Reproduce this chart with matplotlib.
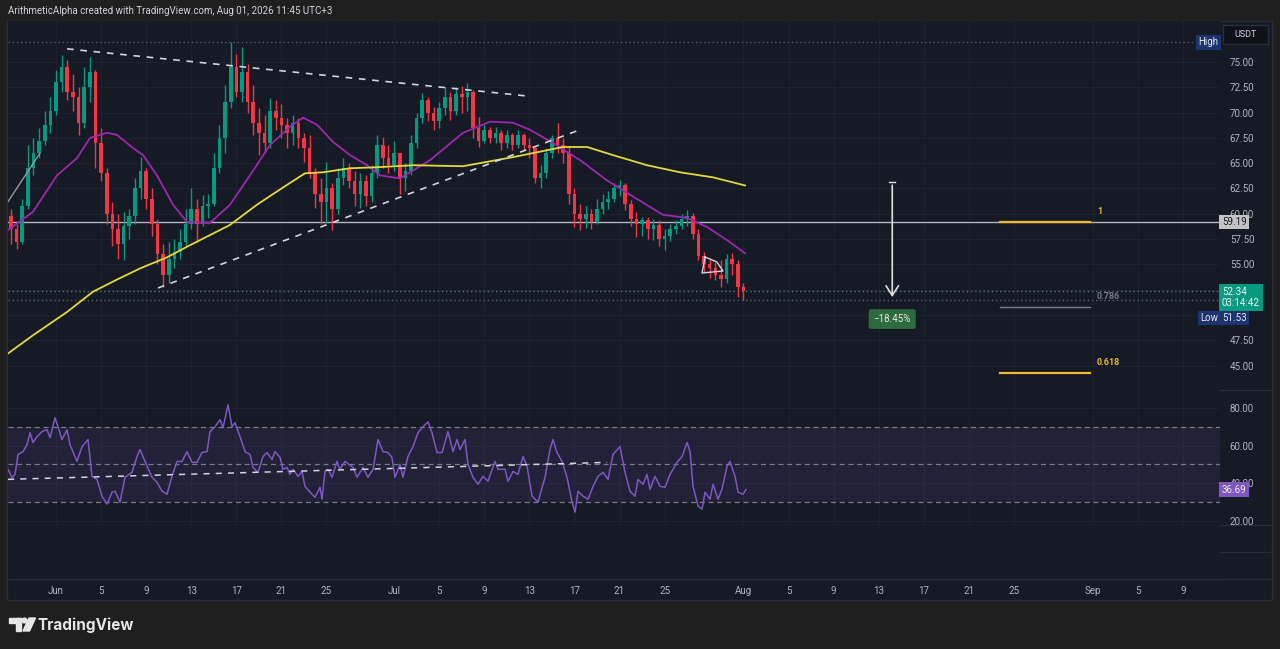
import numpy as np
import matplotlib
matplotlib.use("Agg")
import matplotlib.pyplot as plt
from matplotlib.patches import Rectangle, Polygon, Circle
from matplotlib.transforms import blended_transform_factory

plt.rcParams['font.family'] = ['Roboto', 'DejaVu Sans']

# ---- data (x in days from Jun 1, 12h candles) ----
candle_start = -4.0
candle_step = 0.5
first_open = 59.8
closes = [58.5, 57.2, 60.8, 64.5, 66.0, 67.2, 68.8, 70.2, 73.0, 74.5,
          72.0, 71.5, 69.0, 72.5, 74.0, 67.0, 64.0, 60.0, 58.5, 57.0,
          58.8, 59.8, 62.5, 64.2, 61.5, 59.0, 56.0, 54.0, 55.5, 56.2,
          57.2, 59.0, 60.5, 59.0, 60.8, 61.0, 64.5, 67.5, 71.0, 74.5,
          72.0, 74.0, 71.0, 69.0, 68.0, 67.0, 70.2, 69.5, 68.8, 68.0,
          69.0, 67.5, 66.5, 64.0, 62.0, 61.2, 62.5, 60.5, 63.5, 64.5,
          63.2, 62.0, 63.2, 61.8, 64.0, 66.8, 65.5, 64.8, 66.0, 63.5,
          64.2, 67.0, 69.5, 71.2, 70.0, 69.2, 70.5, 71.5, 70.2, 71.8,
          71.5, 72.0, 68.5, 67.2, 68.3, 67.5, 68.0, 67.0, 67.8, 66.8,
          67.8, 66.8, 66.5, 63.5, 64.0, 66.0, 67.5, 66.8, 66.0, 62.0,
          60.0, 59.5, 60.0, 59.2, 60.5, 61.2, 61.5, 62.5, 62.8, 61.0,
          59.5, 59.0, 59.4, 58.5, 58.9, 57.5, 57.8, 58.5, 58.8, 59.5,
          59.8, 58.0, 55.8, 55.0, 54.6, 54.0, 53.6, 55.5, 55.0, 52.8,
          52.34]
highs = [60.5, 59.0, 61.5, 66.8, 67.5, 68.5, 70.2, 71.5, 74.2, 75.7,
         75.2, 73.8, 72.5, 74.5, 75.5, 74.2, 68.5, 64.5, 61.2, 60.0,
         60.2, 60.5, 63.5, 65.6, 64.5, 62.5, 59.5, 57.0, 57.2, 57.5,
         58.5, 60.5, 62.5, 61.5, 61.9, 62.0, 66.0, 68.8, 72.7, 77.0,
         75.8, 76.5, 74.8, 72.7, 70.5, 69.8, 71.4, 71.2, 70.8, 69.5,
         69.8, 69.5, 68.0, 67.8, 64.5, 63.5, 65.1, 63.0, 64.5, 65.5,
         65.0, 64.2, 64.0, 63.8, 64.8, 67.8, 67.6, 66.8, 67.2, 66.0,
         65.0, 67.8, 70.0, 71.9, 71.5, 70.6, 71.0, 72.5, 72.0, 72.5,
         72.6, 72.9, 72.2, 69.6, 68.8, 68.6, 68.6, 68.3, 68.3, 68.0,
         68.3, 68.0, 67.5, 66.6, 64.8, 66.5, 67.8, 69.0, 67.5, 66.6,
         62.5, 61.0, 60.8, 60.5, 61.5, 62.0, 62.3, 63.0, 63.3, 63.0,
         61.4, 60.2, 59.7, 59.7, 59.5, 59.4, 58.5, 59.0, 59.4, 60.0,
         60.4, 60.1, 58.5, 56.2, 55.6, 55.2, 55.4, 56.0, 56.1, 55.4,
         53.2]
lows = [57.0, 56.5, 57.0, 60.5, 63.8, 65.5, 66.8, 68.0, 69.8, 72.0,
        71.2, 70.2, 67.8, 68.5, 71.0, 64.5, 63.2, 59.0, 56.8, 55.5,
        55.4, 57.5, 59.0, 61.5, 60.5, 57.8, 55.0, 52.8, 53.2, 54.6,
        55.5, 56.8, 58.5, 57.2, 58.8, 59.6, 60.8, 64.0, 66.0, 70.5,
        71.5, 71.0, 70.0, 67.8, 65.8, 66.1, 66.5, 68.3, 67.5, 66.5,
        66.8, 66.5, 65.1, 63.5, 60.6, 59.0, 59.1, 58.4, 60.0, 62.8,
        62.5, 60.8, 60.6, 60.8, 61.2, 63.5, 64.5, 64.0, 64.2, 62.0,
        62.3, 63.8, 66.5, 69.0, 69.2, 68.3, 68.5, 69.8, 69.3, 69.8,
        70.0, 70.2, 67.5, 66.6, 67.0, 67.0, 67.0, 66.3, 66.5, 66.3,
        66.5, 66.3, 65.5, 63.0, 62.5, 63.5, 65.5, 66.0, 65.0, 61.0,
        58.7, 58.4, 58.6, 58.5, 59.0, 60.0, 60.5, 61.2, 61.8, 60.4,
        58.8, 57.7, 57.8, 57.5, 57.4, 56.8, 56.4, 57.3, 58.0, 58.5,
        58.8, 57.5, 55.4, 54.2, 53.7, 53.5, 52.8, 53.2, 54.0, 51.8,
        51.53]

ma_fast_days = [-4.26, -2.04, 0.09, 1.86, 3.02, 4.53, 5.41, 6.83, 7.72, 8.96,
                10.38, 11.62, 13.66, 15.44, 17.21, 18.99, 20.76, 21.92, 23.16, 24.58,
                26.09, 27.6, 28.75, 30.52, 33.19, 36.11, 38.51, 40.55, 42.06, 44.1,
                46.5, 48.89, 51.2, 53.86, 55.99, 57.76, 59.54, 61.14]
ma_fast = [58.4, 60.2, 63.8, 65.5, 67.5, 68.0, 67.8, 66.5, 65.8, 63.8,
           60.9, 59.2, 59.1, 60.9, 63.8, 66.8, 68.6, 69.5, 68.8, 67.1,
           65.8, 64.8, 63.8, 63.5, 65.3, 68.0, 69.1, 69.0, 68.3, 67.0,
           65.3, 63.3, 61.7, 59.9, 59.6, 58.7, 57.4, 56.1]
ma_slow_days = [-4.26, -2.04, 0.98, 3.28, 5.41, 7.45, 9.85, 11.89, 15.44, 17.83,
                20.14, 22.09, 23.69, 26.09, 28.48, 31.68, 36.11, 40.55, 44.99, 47.12,
                49.42, 52.44, 55.37, 58.3, 61.14]
ma_slow = [46.2, 48.0, 50.3, 52.3, 53.5, 54.6, 55.7, 56.9, 58.9, 60.9,
           62.6, 64.0, 64.1, 64.5, 64.6, 64.8, 64.7, 65.6, 66.6, 66.6,
           65.8, 64.8, 64.1, 63.6, 62.8]

rsi_days = [-4.26, -3.90, -3.64, -3.37, -2.93, -2.57, -2.31, -2.04, -1.69, -1.24,
            -0.80, -0.53, -0.09, 0.18, 0.53, 0.98, 1.24, 1.86, 2.31, 2.84,
            3.19, 3.64, 4.08, 4.53, 4.97, 5.24, 5.68, 6.12, 6.74, 7.19,
            7.45, 7.90, 8.52, 8.96, 9.41, 9.85, 10.29, 10.74, 11.18, 11.62,
            12.07, 12.51, 12.95, 13.40, 13.66, 14.11, 14.55, 14.82, 15.26, 15.62,
            15.88, 16.33, 16.77, 17.21, 17.48, 17.92, 18.37, 18.72, 19.17, 19.43,
            19.88, 20.14, 20.50, 20.76, 21.03, 21.47, 21.83, 22.09, 22.54, 22.98,
            23.43, 23.60, 23.87, 24.13, 24.49, 24.93, 25.20, 25.64, 26.35, 26.71,
            27.24, 27.68, 28.13, 28.57, 29.01, 29.46, 29.81, 30.08, 30.52, 30.79,
            31.23, 31.68, 32.12, 32.56, 33.01, 33.36, 33.81, 34.25, 34.78, 35.23,
            35.58, 35.85, 36.29, 36.56, 37.00, 37.44, 37.89, 38.33, 38.95, 39.22,
            39.84, 40.11, 40.55, 40.99, 41.44, 41.79, 42.24, 42.77, 43.39, 43.83,
            44.10, 44.45, 44.90, 45.34, 45.79, 46.05, 46.32, 46.76, 47.21, 47.65,
            48.09, 48.54, 48.98, 49.42, 50.04, 50.49, 50.93, 51.38, 51.64, 52.09,
            52.44, 52.71, 53.15, 53.59, 54.04, 54.48, 55.10, 55.55, 55.99, 56.26,
            56.52, 56.97, 57.32, 57.59, 58.03, 58.30, 58.74, 59.09, 59.54, 59.80,
            60.25, 60.52, 60.96, 61.22]
rsi_vals = [47.4, 43.0, 44.7, 55.3, 56.8, 60.5, 66.8, 61.6, 64.7, 67.4,
            68.4, 64.2, 74.7, 70.0, 63.2, 68.4, 60.5, 51.6, 59.5, 63.2,
            43.7, 42.1, 33.2, 29.0, 35.3, 35.8, 30.0, 43.2, 45.8, 54.2,
            57.9, 51.6, 43.2, 40.5, 35.8, 34.2, 43.7, 51.6, 51.6, 56.8,
            51.1, 51.1, 56.3, 56.8, 67.4, 70.0, 73.7, 69.5, 81.6, 70.0,
            72.1, 64.7, 56.8, 55.3, 48.4, 45.8, 54.2, 56.3, 52.6, 56.8,
            53.7, 47.4, 48.4, 44.7, 47.4, 43.7, 46.3, 38.4, 35.3, 32.6,
            37.9, 31.6, 46.3, 47.4, 43.2, 51.6, 47.4, 51.6, 48.4, 43.2,
            48.4, 43.2, 47.4, 63.2, 56.8, 56.3, 53.7, 43.2, 50.0, 43.2,
            54.2, 59.5, 66.8, 70.0, 72.6, 66.8, 56.3, 56.3, 67.4, 56.8,
            63.2, 57.9, 63.2, 50.0, 43.2, 39.5, 43.7, 41.1, 51.6, 47.4,
            47.4, 41.1, 46.3, 44.7, 54.2, 49.0, 33.2, 30.0, 43.2, 57.9,
            63.2, 56.3, 51.6, 43.2, 30.0, 24.7, 35.8, 33.2, 31.6, 38.4,
            43.7, 45.8, 42.1, 55.3, 59.5, 45.8, 35.8, 33.2, 42.1, 39.5,
            44.7, 36.8, 43.7, 38.4, 37.9, 44.7, 51.1, 54.2, 61.6, 56.8,
            38.4, 27.9, 26.3, 35.3, 31.6, 39.5, 31.6, 36.8, 49.0, 51.6,
            43.7, 35.3, 34.2, 36.69]

# drawings
upper_tl_days, upper_tl_px = [0.98, 41.8], [76.3, 71.64]
lower_tl_days, lower_tl_px = [9.05, 46.67], [52.67, 68.38]
early_tl_days, early_tl_px = [-4.26, -1.42], [61.2, 66.0]
wedge_days = [57.59, 58.64, 59.18, 57.32, 57.59]
wedge_px = [55.73, 55.24, 54.35, 54.15, 55.73]
rsi_tl_days, rsi_tl_vals = [-4.26, 48.9], [42.1, 51.1]
hline_price = 59.19
last_price = 52.34
high_price = 77.0
low_price = 51.53
last_rsi = 36.69
arrow_day, arrow_from, arrow_to = 74.2, 63.1, 51.5
move_label = "\u221218.45%"
move_label_price = 49.6
fib_span = [83.8, 91.75]
fib_names = ["1", "0.786", "0.618"]
fib_prices = [59.19, 50.79, 44.27]

tick_days = [0, 4, 8, 12, 16, 20, 24, 30, 34, 38, 42, 46, 50, 54,
             61, 65, 69, 73, 77, 81, 85, 92, 96, 100]
tick_labels = ["Jun", "5", "9", "13", "17", "21", "25", "Jul", "5", "9", "13", "17", "21", "25",
               "Aug", "5", "9", "13", "17", "21", "25", "Sep", "5", "9"]
price_ticks = [45.0, 47.5, 50.0, 52.5, 55.0, 57.5, 60.0, 62.5, 65.0, 67.5, 70.0, 72.5, 75.0]
hidden_price_ticks = [50.0, 52.5]   # covered by the last-price / low tags
rsi_ticks = [20, 40, 60, 80]

# ---- style ----
BG = '#161a25'
OUTER = '#1f1f1f'
GRID = '#1e2230'
SEP = '#2a2e39'
TXT = '#b2b5be'
UP = '#089981'
DN = '#f23645'
W, H = 1280, 649

fig = plt.figure(figsize=(W / 100, H / 100), dpi=100, facecolor=OUTER)


def fr(x0, y0, x1, y1):
    return [x0 / W, 1 - y1 / H, (x1 - x0) / W, (y1 - y0) / H]


ui = fig.add_axes([0, 0, 1, 1], zorder=0)
ui.set_xlim(0, W)
ui.set_ylim(H, 0)
ui.axis('off')
ui.add_patch(Rectangle((7, 21), 1265, 579, facecolor=BG, edgecolor=SEP, lw=1))
for yy in [390, 525, 552, 579]:
    ui.plot([7, 1272], [yy, yy], color=SEP, lw=1)

ax = fig.add_axes(fr(8, 21, 1220, 390), zorder=1)
rx = fig.add_axes(fr(8, 390, 1220, 525), zorder=1)
p3 = fig.add_axes(fr(8, 525, 1220, 552), zorder=1)
p4 = fig.add_axes(fr(8, 552, 1220, 579), zorder=1)

xlim = (-4.26, 103.28)
for a in (ax, rx, p3, p4):
    a.set_facecolor(BG)
    a.set_xlim(*xlim)
    for s in a.spines.values():
        s.set_visible(False)
    a.tick_params(length=0)
    a.set_xticks(tick_days)
    a.set_xticklabels([])

ax.set_ylim(42.59, 79.05)
rx.set_ylim(17.9, 89.47)
p3.set_yticks([])
p4.set_yticks([])
p4.set_xticklabels(tick_labels, color=TXT, fontsize=7)
p4.tick_params(axis='x', pad=5)

for a, ticks in ((ax, price_ticks), (rx, rsi_ticks)):
    a.yaxis.tick_right()
    a.set_yticks(ticks)
    a.set_yticklabels(["" if t in hidden_price_ticks else "%.2f" % t for t in ticks],
                      color=TXT, fontsize=7)
    a.tick_params(axis='y', pad=7)
    a.grid(True, color=GRID, lw=0.8)
    a.set_axisbelow(True)

# ---- candles ----
c = np.array(closes)
hi = np.array(highs)
lo = np.array(lows)
o = np.r_[first_open, c[:-1]]
t = candle_start + candle_step * np.arange(len(c))
col = np.where(c >= o, UP, DN)
ax.vlines(t, lo, hi, colors=col, lw=1, zorder=3)
body = np.maximum(np.abs(c - o), 0.06)
ax.bar(t, body, bottom=np.minimum(o, c), width=0.32, color=col, lw=0, zorder=3)

ax.plot(ma_fast_days, ma_fast, color='#9c27b0', lw=1.3, zorder=4)
ax.plot(ma_slow_days, ma_slow, color='#e6d83c', lw=1.3, zorder=4)

# lines and drawings
ax.axhline(hline_price, color='#b2b5be', lw=1, zorder=2)
ax.axhline(high_price, color='#5d606b', lw=1, ls=(0, (1, 2)), zorder=2)
ax.axhline(last_price, color='#3f7f75', lw=1, ls=(0, (1, 2)), zorder=2)
ax.axhline(low_price, color='#5d606b', lw=1, ls=(0, (1, 2)), zorder=2)
dash = (0, (4, 4))
ax.plot(upper_tl_days, upper_tl_px, color='#d1d4dc', lw=1.2, ls=dash, zorder=5)
ax.plot(lower_tl_days, lower_tl_px, color='#d1d4dc', lw=1.2, ls=dash, zorder=5)
ax.plot(early_tl_days, early_tl_px, color='#9598a1', lw=1, zorder=5)
ax.plot(wedge_days, wedge_px, color='#d1d4dc', lw=1, zorder=5)

ax.plot([arrow_day - 0.25, arrow_day + 0.25], [arrow_from, arrow_from], color='#e0e0e0', lw=1, zorder=5)
ax.annotate("", xy=(arrow_day, arrow_to), xytext=(arrow_day, arrow_from),
            arrowprops=dict(arrowstyle='->,head_length=0.7,head_width=0.45', color='#e0e0e0', lw=1.2),
            zorder=5)
ax.text(arrow_day, move_label_price, move_label, color='#e8e8e8', fontsize=7, ha='center', va='center',
        zorder=6, bbox=dict(boxstyle='round,pad=0.5,rounding_size=0.25', fc='#2d6a3e', ec='none'))

for name, p in zip(fib_names, fib_prices):
    fc = '#787b86' if name == "0.786" else '#f0b72f'
    ax.plot(fib_span, [p, p], color=fc, lw=1.6 if fc != '#787b86' else 1.0, zorder=5)
    ax.annotate(name, xy=(fib_span[1], p), xytext=(5, 4), textcoords='offset points',
                color=fc, fontsize=6.5, fontweight='bold', va='bottom', ha='left')

# right-axis tags
bt = blended_transform_factory(ax.transAxes, ax.transData)
ax.text(1.0015, hline_price, "59.19", transform=bt, color='#131722', fontsize=7, va='center', ha='left',
        zorder=10, bbox=dict(boxstyle='square,pad=0.25', fc='#c4c4c4', ec='none'))
ax.text(1.0015, last_price - 0.6, "52.34\n03:14:42", transform=bt, color='#f0f0f0', fontsize=7,
        va='center', ha='left', linespacing=1.1, zorder=10,
        bbox=dict(boxstyle='square,pad=0.3', fc=UP, ec='none'))
ax.text(1.0015, 49.7, "51.53", transform=bt, color='#e8e8e8', fontsize=7, va='center', ha='left',
        zorder=10, bbox=dict(boxstyle='square,pad=0.25', fc='#1c3470', ec='none'))
ax.text(0.9985, 49.7, "Low", transform=bt, color='#e8e8e8', fontsize=7, va='center', ha='right',
        zorder=10, bbox=dict(boxstyle='square,pad=0.25', fc='#1c3470', ec='none'))
ax.text(0.9985, 76.95, "High", transform=bt, color='#e8e8e8', fontsize=7, va='center', ha='right',
        zorder=10, bbox=dict(boxstyle='square,pad=0.25', fc='#1c3470', ec='none'))

# ---- RSI ----
rx.axhspan(30, 70, color='#7e57c2', alpha=0.12, lw=0, zorder=1)
for lvl in (70, 50, 30):
    rx.axhline(lvl, color='#787b86', lw=0.9, ls=(0, (4, 3)), zorder=2)
rx.plot(rsi_days, rsi_vals, color='#7e57c2', lw=1.1, zorder=4)
rx.plot(rsi_tl_days, rsi_tl_vals, color='#d1d4dc', lw=1.1, ls=dash, zorder=5)
btr = blended_transform_factory(rx.transAxes, rx.transData)
rx.text(1.0015, last_rsi, "36.69", transform=btr, color='#f0f0f0', fontsize=7, va='center', ha='left',
        zorder=10, bbox=dict(boxstyle='square,pad=0.25', fc='#7e57c2', ec='none'))

# ---- chrome ----
ui.text(8, 11, "ArithmeticAlpha created with TradingView.com, Aug 01, 2026 11:45 UTC+3",
        color='#d1d4dc', fontsize=7, va='center', ha='left')
ui.text(14, 33, "HYPEUSDT SPOT \u00b7 4h \u00b7 Bybit", color='#d1d4dc', fontsize=7, va='center', ha='left')
ui.text(137, 33, "Vol", color='#d1d4dc', fontsize=7, va='center', ha='left')
ui.text(152, 33, "14.87K", color='#26a69a', fontsize=7, va='center', ha='left')
ui.add_patch(Rectangle((1223, 25), 45, 19, facecolor='#0e1118', edgecolor='#2a2e39', lw=1, zorder=20))
ui.text(1245.5, 34.5, "USDT", color='#d1d4dc', fontsize=6.5, ha='center', va='center', zorder=21)

# TradingView logo
logo = '#e6e6e6'
ui.add_patch(Rectangle((9, 618), 12, 4.5, color=logo))
ui.add_patch(Rectangle((15.5, 618), 5.5, 13, color=logo))
ui.add_patch(Circle((24.5, 620.5), 2.4, color=logo))
ui.add_patch(Polygon([(29, 618), (35.5, 618), (29.5, 631), (23, 631)], color=logo))
ui.text(38, 625, "TradingView", color=logo, fontsize=11, fontweight='bold', va='center', ha='left',
        family=['Inter', 'DejaVu Sans'])

fig.savefig("out.png", dpi=100, facecolor=OUTER)
